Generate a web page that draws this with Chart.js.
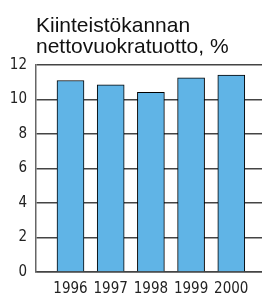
<!DOCTYPE html>
<html>
<head>
<meta charset="utf-8">
<script src="https://cdn.jsdelivr.net/npm/chart.js@4/dist/chart.umd.min.js"></script>
<style>
html,body{margin:0;padding:0;background:#fff;}
#wrap{width:262px;height:296px;position:relative;}
</style>
</head>
<body>
<div id="wrap"><canvas id="c" width="262" height="296"></canvas></div>
<script>
const years = [1996, 1997, 1998, 1999, 2000];
const yieldPct = [11.1, 10.85, 10.42, 11.26, 11.42];
const titleLines = ['Kiinteistökannan', 'nettovuokratuotto, %'];
const yTicks = [0, 2, 4, 6, 8, 10, 12];

const tickFont = {family: "'Liberation Sans Narrow', 'DejaVu Sans Condensed', 'Liberation Sans', sans-serif", size: 15};

new Chart(document.getElementById('c'), {
  type: 'bar',
  data: {
    datasets: [{
      data: years.map((y, i) => ({x: y, y: yieldPct[i]})),
      backgroundColor: '#60b4e6',
      borderColor: '#000',
      borderWidth: 1,
      borderSkipped: 'bottom',
      barThickness: 27
    }]
  },
  options: {
    responsive: false,
    animation: false,
    devicePixelRatio: 1,
    layout: {padding: {left: 0, right: 0, top: 0, bottom: 0}},
    plugins: {
      legend: {display: false},
      tooltip: {enabled: false},
      title: {
        display: true,
        text: titleLines,
        align: 'start',
        fullSize: false,
        color: '#111',
        font: {family: "'Liberation Sans', Arial, sans-serif", size: 21, weight: 'normal', lineHeight: 1.0},
        padding: {top: 16, bottom: 7}
      }
    },
    scales: {
      x: {
        type: 'linear',
        offset: false,
        min: 1995.142,
        max: 2000.764,
        afterBuildTicks: s => { s.ticks = years.map(v => ({value: v})); },
        afterFit: s => { s.height = 24; },
        grid: {display: false, drawTicks: false, offset: false},
        border: {display: true, color: '#444', width: 1.5},
        ticks: {color: '#222', font: tickFont, padding: 8, maxRotation: 0, autoSkip: false, callback: v => String(v)}
      },
      y: {
        min: 0,
        max: 12,
        afterBuildTicks: s => { s.ticks = yTicks.map(v => ({value: v})); },
        afterFit: s => { s.width = 36; },
        grid: {color: '#444', lineWidth: 1.5, drawTicks: false},
        border: {display: true, color: '#666', width: 1.5},
        ticks: {color: '#222', font: tickFont, padding: 9}
      }
    }
  }
});
</script>
</body>
</html>
